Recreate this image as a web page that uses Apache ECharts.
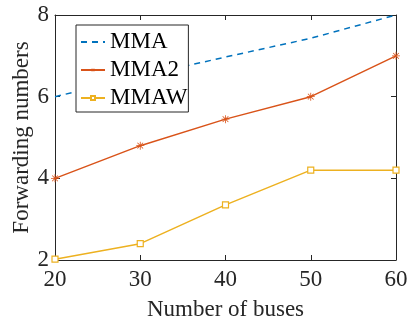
<!DOCTYPE html>
<html>
<head>
<meta charset="utf-8">
<script src="https://cdn.jsdelivr.net/npm/echarts@6/dist/echarts.min.js"></script>
<style>
  html, body { margin: 0; padding: 0; background: #fff; }
  #chart { width: 414px; height: 325px; }
</style>
</head>
<body>
<div id="chart"></div>
<script>
// Forwarding numbers versus number of buses
const buses = [20, 30, 40, 50, 60];
const mma = [6.0, 6.5, 6.97, 7.43, 8.0];
const mma2 = [4.0, 4.8, 5.45, 6.0, 7.0];
const mmaw = [2.02, 2.4, 3.35, 4.2, 4.2];
const yTicks = [2, 4, 6, 8];

const FONT = '"Liberation Serif", "DejaVu Serif", serif';
const INK = '#262626';
const C_MMA = '#0072BD';
const C_MMA2 = '#D95319';
const C_MMAW = '#EDB120';

const ASTERISK = 'path://M4.5,0H5.5V10H4.5Z M0,4.5H10V5.5H0Z M1.1,1.8L1.8,1.1L8.9,8.2L8.2,8.9Z M8.2,1.1L8.9,1.8L1.8,8.9L1.1,8.2Z';

const pairs = ys => buses.map((b, i) => [b, ys[i]]);

const chart = echarts.init(document.getElementById('chart'), null, { renderer: 'canvas' });

const axisCommon = {
  axisLine: { show: true, lineStyle: { color: INK, width: 1 } },
  axisTick: { show: true, inside: true, length: 5, lineStyle: { color: INK } },
  splitLine: { show: false }
};

chart.setOption({
  animation: false,
  backgroundColor: '#fff',
  grid: { left: 55, right: 18, top: 15, bottom: 65, containLabel: false, outerBoundsMode: 'none' },
  legend: {
    orient: 'vertical',
    left: 76,
    top: 25,
    padding: [5, 1, 2, 4],
    itemGap: 4,
    itemWidth: 24,
    itemHeight: 5,
    backgroundColor: '#fff',
    borderColor: INK,
    borderWidth: 1,
    borderRadius: 0,
    textStyle: { fontFamily: FONT, fontSize: 23, color: '#000', lineHeight: 24 },
    data: [
      { name: 'MMA', itemStyle: { opacity: 0 } },
      { name: 'MMA2' },
      { name: 'MMAW' }
    ]
  },
  xAxis: [
    Object.assign({
      type: 'value', min: 20, max: 60, interval: 10,
      name: 'Number of buses', nameLocation: 'middle', nameGap: 38, nameMoveOverlap: false,
      nameTextStyle: { fontFamily: FONT, fontSize: 23, color: INK },
      axisLabel: { fontFamily: FONT, fontSize: 23, color: INK, margin: 8 }
    }, axisCommon),
    Object.assign({
      type: 'value', min: 20, max: 60, interval: 10, position: 'top',
      axisLabel: { show: false }
    }, axisCommon)
  ],
  yAxis: [
    Object.assign({
      type: 'value', min: yTicks[0], max: yTicks[yTicks.length - 1], interval: 2,
      name: 'Forwarding numbers', nameLocation: 'middle', nameGap: 22, nameRotate: 90, nameMoveOverlap: false,
      nameTextStyle: { fontFamily: FONT, fontSize: 23, color: INK },
      axisLabel: { fontFamily: FONT, fontSize: 23, color: INK, margin: 6 }
    }, axisCommon),
    Object.assign({
      type: 'value', min: yTicks[0], max: yTicks[yTicks.length - 1], interval: 2, position: 'right',
      axisLabel: { show: false }
    }, axisCommon)
  ],
  series: [
    {
      name: 'MMA', type: 'line', data: pairs(mma), z: 1,
      symbol: 'none', color: C_MMA,
      lineStyle: { color: C_MMA, width: 1.5, type: [6, 5] }
    },
    {
      name: 'MMA2', type: 'line', data: pairs(mma2), z: 3,
      symbol: ASTERISK, symbolSize: 8, color: C_MMA2,
      itemStyle: { color: C_MMA2 },
      lineStyle: { color: C_MMA2, width: 1.5 }
    },
    {
      name: 'MMAW', type: 'line', data: pairs(mmaw), z: 3,
      symbol: 'rect', symbolSize: 6, color: C_MMAW,
      itemStyle: { color: '#fff', borderColor: C_MMAW, borderWidth: 1.2 },
      lineStyle: { color: C_MMAW, width: 1.5 }
    }
  ]
});
</script>
</body>
</html>
